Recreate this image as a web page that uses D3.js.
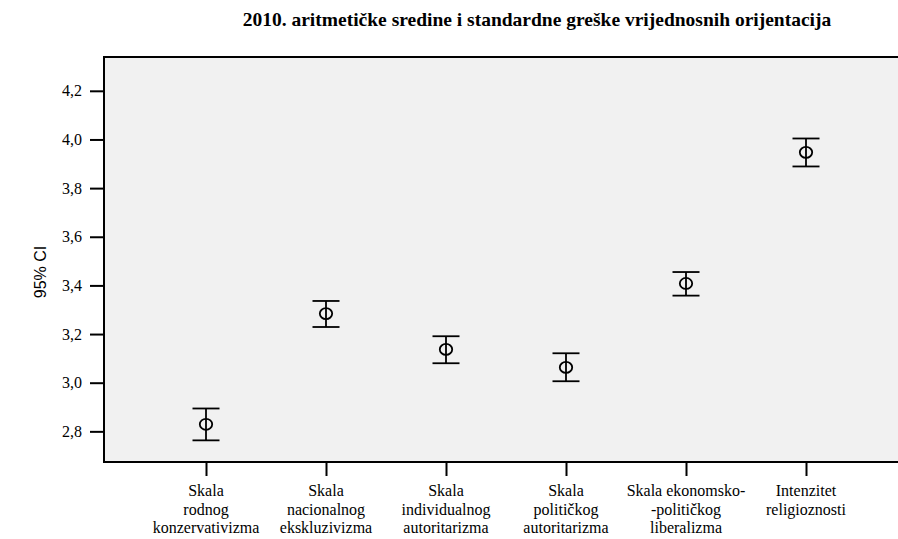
<!DOCTYPE html>
<html>
<head>
<meta charset="utf-8">
<script src="https://cdn.jsdelivr.net/npm/d3@7"></script>
<style>
  body { margin: 0; background: #fff; }
  svg { display: block; }
</style>
</head>
<body>
<div id="chart"></div>
<script>
// podaci: aritmeticke sredine i 95% CI
const categories = [
    ["Skala", "rodnog", "konzervativizma"],
    ["Skala", "nacionalnog", "ekskluzivizma"],
    ["Skala", "individualnog", "autoritarizma"],
    ["Skala", "političkog", "autoritarizma"],
    ["Skala ekonomsko-", "-političkog", "liberalizma"],
    ["Intenzitet", "religioznosti"]
];
const means = [2.829, 3.284, 3.137, 3.063, 3.408, 3.947];
const upper = [2.894, 3.336, 3.191, 3.121, 3.455, 4.004];
const lower = [2.763, 3.229, 3.080, 3.006, 3.358, 3.889];
const yTicks = [2.8, 3.0, 3.2, 3.4, 3.6, 3.8, 4.0, 4.2];

const width = 898, height = 539;
const plot = { left: 104, top: 57, right: 910, bottom: 462 };
const serif = "'Liberation Serif', 'Times New Roman', serif";

const svg = d3.select("#chart").append("svg")
    .attr("width", width)
    .attr("height", height);

const x = d3.scalePoint()
    .domain(d3.range(categories.length))
    .range([plot.left, 908])
    .padding(0.85);

const y = d3.scaleLinear()
    .domain([2.674, 4.339])
    .range([plot.bottom, plot.top]);

// pozadina
svg.append("rect")
    .attr("x", plot.left)
    .attr("y", plot.top)
    .attr("width", plot.right - plot.left)
    .attr("height", plot.bottom - plot.top)
    .attr("fill", "#f1f1f1")
    .attr("stroke", "#000")
    .attr("stroke-width", 2);

// naslov
svg.append("text")
    .attr("x", 537)
    .attr("y", 26)
    .attr("text-anchor", "middle")
    .style("font-family", serif)
    .style("font-weight", "bold")
    .style("font-size", "19.5px")
    .text("2010. aritmetičke sredine i standardne greške vrijednosnih orijentacija");

// y os
const yAxis = d3.axisLeft(y)
    .tickValues(yTicks)
    .tickSize(14)
    .tickPadding(8)
    .tickFormat(d => d3.format(".1f")(d).replace(".", ","));

const gy = svg.append("g")
    .attr("transform", `translate(${plot.left},0)`)
    .call(yAxis);
gy.select(".domain").remove();
gy.selectAll("line").attr("stroke", "#000").attr("stroke-width", 2);
gy.selectAll("text")
    .style("font-family", serif)
    .style("font-size", "16px")
    .attr("fill", "#000");

svg.append("text")
    .attr("transform", "translate(46,272) rotate(-90)")
    .attr("text-anchor", "middle")
    .style("font-family", "'Liberation Sans', Arial, sans-serif")
    .style("font-size", "16px")
    .text("95% CI");

// x os
const xAxis = d3.axisBottom(x).tickSize(14).tickFormat("");
const gx = svg.append("g")
    .attr("transform", `translate(0,${plot.bottom})`)
    .call(xAxis);
gx.select(".domain").remove();
gx.selectAll("line").attr("stroke", "#000").attr("stroke-width", 2);

categories.forEach((lines, i) => {
    const t = svg.append("text")
        .attr("text-anchor", "middle")
        .style("font-family", serif)
        .style("font-size", "16px");
    lines.forEach((s, j) => {
        t.append("tspan")
            .attr("x", x(i))
            .attr("y", 496 + j * 18.5)
            .text(s);
    });
});

// error barovi
const capHalf = 13.5;
const bars = svg.append("g")
    .selectAll("g")
    .data(means.map((m, i) => ({ i, m, hi: upper[i], lo: lower[i] })))
    .join("g")
    .attr("stroke", "#000")
    .attr("stroke-width", 1.8)
    .attr("fill", "none");

bars.append("line")
    .attr("x1", d => x(d.i)).attr("x2", d => x(d.i))
    .attr("y1", d => y(d.hi)).attr("y2", d => y(d.lo));
bars.append("line")
    .attr("x1", d => x(d.i) - capHalf).attr("x2", d => x(d.i) + capHalf)
    .attr("y1", d => y(d.hi)).attr("y2", d => y(d.hi));
bars.append("line")
    .attr("x1", d => x(d.i) - capHalf).attr("x2", d => x(d.i) + capHalf)
    .attr("y1", d => y(d.lo)).attr("y2", d => y(d.lo));
bars.append("ellipse")
    .attr("cx", d => x(d.i))
    .attr("cy", d => y(d.m))
    .attr("rx", 6.2)
    .attr("ry", 5.5);
</script>
</body>
</html>
